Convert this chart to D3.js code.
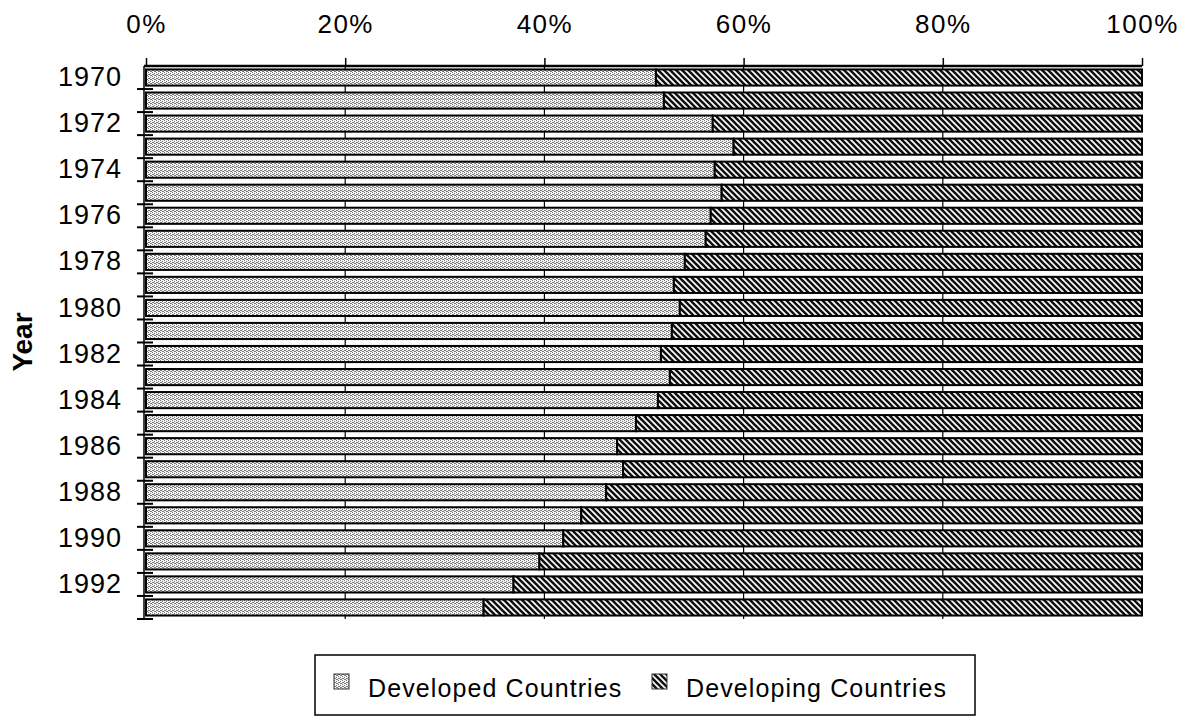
<!DOCTYPE html>
<html>
<head>
<meta charset="utf-8">
<script src="https://cdn.jsdelivr.net/npm/d3@7"></script>
<style>
  html, body { margin: 0; padding: 0; background: #fff; }
  svg text { font-family: "Liberation Sans", Arial, Helvetica, sans-serif; fill: #000; }
</style>
</head>
<body>
<svg id="chart" width="1191" height="727"></svg>
<script>
const years = ["1970","1971","1972","1973","1974","1975","1976","1977","1978","1979","1980","1981",
               "1982","1983","1984","1985","1986","1987","1988","1989","1990","1991","1992","1993"];
const developed  = [51.2, 52.0, 56.9, 59.0, 57.1, 57.8, 56.7, 56.2, 54.1, 53.0, 53.6, 52.8,
                    51.7, 52.6, 51.4, 49.2, 47.3, 47.9, 46.2, 43.7, 41.9, 39.5, 36.9, 33.9];
const developing = [48.8, 48.0, 43.1, 41.0, 42.9, 42.2, 43.3, 43.8, 45.9, 47.0, 46.4, 47.2,
                    48.3, 47.4, 48.6, 50.8, 52.7, 52.1, 53.8, 56.3, 58.1, 60.5, 63.1, 66.1];
const seriesNames = ["Developed Countries", "Developing Countries"];
const xTicks = [0, 0.2, 0.4, 0.6, 0.8, 1.0];
const xTickLabels = ["0%", "20%", "40%", "60%", "80%", "100%"];
const yTickLabels = ["1970","1972","1974","1976","1978","1980","1982","1984","1986","1988","1990","1992"];
const yAxisTitle = "Year";

const svg = d3.select("#chart");
const defs = svg.append("defs");

// stipple pattern for developed countries
const p1 = defs.append("pattern").attr("id", "patDev").attr("patternUnits", "userSpaceOnUse")
  .attr("width", 4).attr("height", 4);
p1.append("rect").attr("width", 4).attr("height", 4).attr("fill", "#f4f4f4");
[[0,0],[2,1],[1,2],[3,3],[0,2],[2,3]].forEach(([a,b]) =>
  p1.append("rect").attr("x", a).attr("y", b).attr("width", 1).attr("height", 1).attr("fill", "#7a7a7a"));

// diagonal hatch for developing countries
const p2 = defs.append("pattern").attr("id", "patDvg").attr("patternUnits", "userSpaceOnUse")
  .attr("width", 6).attr("height", 6);
p2.append("rect").attr("width", 6).attr("height", 6).attr("fill", "#ffffff");
p2.append("path").attr("d", "M-1,-1 L7,7 M-1,5 L1,7 M5,-1 L7,1")
  .attr("stroke", "#111").attr("stroke-width", 2.6);

const fills = ["url(#patDev)", "url(#patDvg)"];

const x = d3.scaleLinear().domain([0, 1]).range([146, 1142]);
const y = d3.scaleBand().domain(years).range([66, 619]).paddingInner(0.3).paddingOuter(0.15);

const table = years.map((yr, i) => ({ year: yr, dev: developed[i], dvg: developing[i] }));
const stack = d3.stack().keys(["dev", "dvg"]).offset(d3.stackOffsetExpand);
const layers = stack(table);

// gridlines
svg.append("g").selectAll("line").data(xTicks.slice(1, 5)).join("line")
  .attr("x1", d => x(d)).attr("x2", d => x(d))
  .attr("y1", 66).attr("y2", 619)
  .attr("stroke", "#000").attr("stroke-width", 1.2);

// bars
svg.append("g").selectAll("g").data(layers).join("g")
  .attr("fill", (d, i) => fills[i])
  .selectAll("rect").data(d => d).join("rect")
  .attr("x", d => x(d[0]))
  .attr("y", d => y(d.data.year))
  .attr("width", d => x(d[1]) - x(d[0]))
  .attr("height", y.bandwidth())
  .attr("stroke", "#000").attr("stroke-width", 2);

// top axis
const xAxis = d3.axisTop(x).tickValues(xTicks)
  .tickFormat((d, i) => xTickLabels[i]).tickSize(8).tickPadding(25);
const gx = svg.append("g").attr("transform", "translate(0,66)").call(xAxis);
gx.select(".domain").attr("stroke-width", 2.5).attr("d", "M144,0H1142");
gx.selectAll(".tick line").attr("stroke-width", 1.5);
gx.selectAll(".tick text").attr("font-size", 26).style("letter-spacing", "1.5px").attr("fill", "#000");

// left axis
const yAxis = d3.axisLeft(y).tickValues(yTickLabels).tickSize(0).tickPadding(22);
const gy = svg.append("g").attr("transform", "translate(144,0)").call(yAxis);
gy.select(".domain").attr("stroke-width", 1.5).attr("d", "M0,66V619");
gy.selectAll(".tick text").attr("font-size", 27).style("letter-spacing", "1px").attr("fill", "#000");

// category boundary ticks
const bounds = years.map(yr => y(yr) - y.step() * y.paddingInner() / 2).slice(1);
bounds.push(619);
svg.append("g").selectAll("line").data(bounds).join("line")
  .attr("x1", 137).attr("x2", 153).attr("y1", d => d).attr("y2", d => d)
  .attr("stroke", "#000").attr("stroke-width", 2);

// axis title
svg.append("text")
  .attr("transform", "translate(32,342) rotate(-90)")
  .attr("text-anchor", "middle")
  .attr("font-size", 28).attr("font-weight", "bold")
  .text(yAxisTitle);

// legend
const lg = svg.append("g");
lg.append("rect").attr("x", 315).attr("y", 655).attr("width", 660).attr("height", 60)
  .attr("fill", "#fff").attr("stroke", "#000").attr("stroke-width", 1.5);
const legendX = [334, 652];
const items = lg.selectAll("g.item").data(seriesNames).join("g").attr("class", "item")
  .attr("transform", (d, i) => `translate(${legendX[i]},0)`);
items.append("rect").attr("x", 0).attr("y", 674).attr("width", 15).attr("height", 15)
  .attr("fill", (d, i) => fills[i]).attr("stroke", "#333").attr("stroke-width", 1);
items.append("text").attr("x", 34).attr("y", 697)
  .attr("font-size", 25).style("letter-spacing", "1.1px")
  .text(d => d);
</script>
</body>
</html>
